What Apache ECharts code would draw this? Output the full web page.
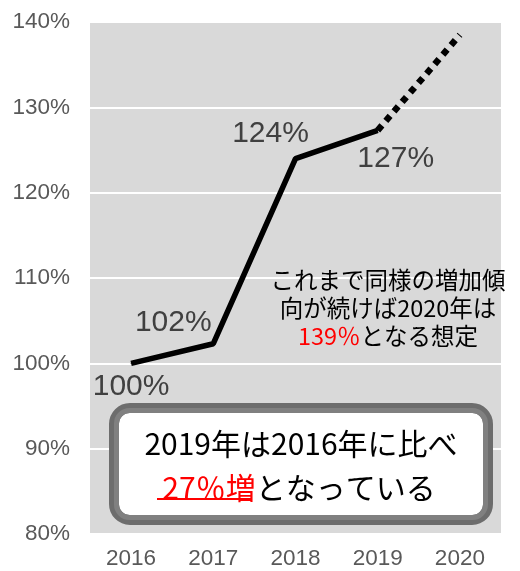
<!DOCTYPE html>
<html>
<head>
<meta charset="utf-8">
<script src="https://cdn.jsdelivr.net/npm/echarts@6/dist/echarts.min.js"></script>
<style>
  html, body { margin: 0; padding: 0; background: #fff; }
  #chart { width: 520px; height: 571px; }
</style>
</head>
<body>
<div id="chart"></div>
<script>
// Data
const years = ['2016', '2017', '2018', '2019', '2020'];
const actual = [100, 102.3, 124, 127.3, null];
const forecast = [null, null, null, 127.3, 138.5];
const pointLabels = ['100%', '102%', '124%', '127%'];
const labelOffsets = [[0, 23], [-40, -21], [-25, -25], [18, 28]];

const noteLines = ['これまで同様の増加傾', '向が続けば2020年は', '{r|139％}となる想定'];
const boxLines = ['2019年は2016年に比べ', '{r|27％増}となっている'];

const latin = '"Liberation Sans", Arial, sans-serif';
const cjk = '"Noto Sans CJK JP", sans-serif';

// one centred text element per line, red parts via rich text
const textLine = (text, x, y, size, z) => ({
  type: 'text',
  x: x, y: y,
  style: {
    text: text,
    fill: '#000',
    fontSize: size,
    fontFamily: cjk,
    align: 'center',
    verticalAlign: 'middle',
    rich: { r: { fill: '#ff0000', fontSize: size, fontFamily: cjk } }
  },
  z: z
});

const chart = echarts.init(document.getElementById('chart'));

chart.setOption({
  animation: false,
  grid: {
    left: 90, right: 19, top: 22, bottom: 37,
    show: true, backgroundColor: '#d9d9d9', borderWidth: 0
  },
  xAxis: {
    type: 'category',
    data: years,
    axisLine: { show: false },
    axisTick: { show: false },
    axisLabel: { color: '#595959', fontSize: 22.5, fontFamily: latin, margin: 13 }
  },
  yAxis: {
    type: 'value',
    min: 80, max: 140, interval: 10,
    axisLabel: { color: '#595959', fontSize: 22.5, fontFamily: latin, margin: 20, formatter: '{value}%' },
    splitLine: { lineStyle: { color: '#ffffff', width: 2 } }
  },
  series: [
    {
      type: 'line',
      data: actual.map((v, i) => v == null ? v : {
        value: v,
        label: { offset: labelOffsets[i], formatter: pointLabels[i] }
      }),
      symbol: 'circle',
      symbolSize: 1,
      itemStyle: { color: '#000' },
      lineStyle: { color: '#000', width: 5.5 },
      label: {
        show: true, position: 'inside',
        color: '#404040', fontSize: 30, fontFamily: latin
      },
      z: 3
    },
    {
      type: 'line',
      data: forecast,
      symbol: 'none',
      lineStyle: { color: '#000', width: 6.5, type: [6.5, 6], cap: 'butt' },
      z: 2
    }
  ],
  graphic: [
    textLine(noteLines[0], 388, 280, 23.5, 10),
    textLine(noteLines[1], 388, 308, 23.5, 10),
    textLine(noteLines[2], 388, 336, 23.5, 10),
    {
      type: 'rect',
      shape: { x: 114, y: 408, width: 374, height: 112, r: 16 },
      style: { fill: '#ffffff', stroke: '#6d6d6d', lineWidth: 10 },
      z: 20
    },
    {
      type: 'rect',
      shape: { x: 116.5, y: 410.5, width: 369, height: 107, r: 13 },
      style: { fill: 'none', stroke: '#808080', lineWidth: 5 },
      z: 21
    },
    textLine(boxLines[0], 301, 444, 30, 22),
    textLine(boxLines[1], 299, 488, 30, 22),
    {
      type: 'line',
      shape: { x1: 157, y1: 499, x2: 252, y2: 499 },
      style: { stroke: '#ff0000', lineWidth: 2 },
      z: 22
    }
  ]
});

window.addEventListener('resize', () => chart.resize());
</script>
</body>
</html>
